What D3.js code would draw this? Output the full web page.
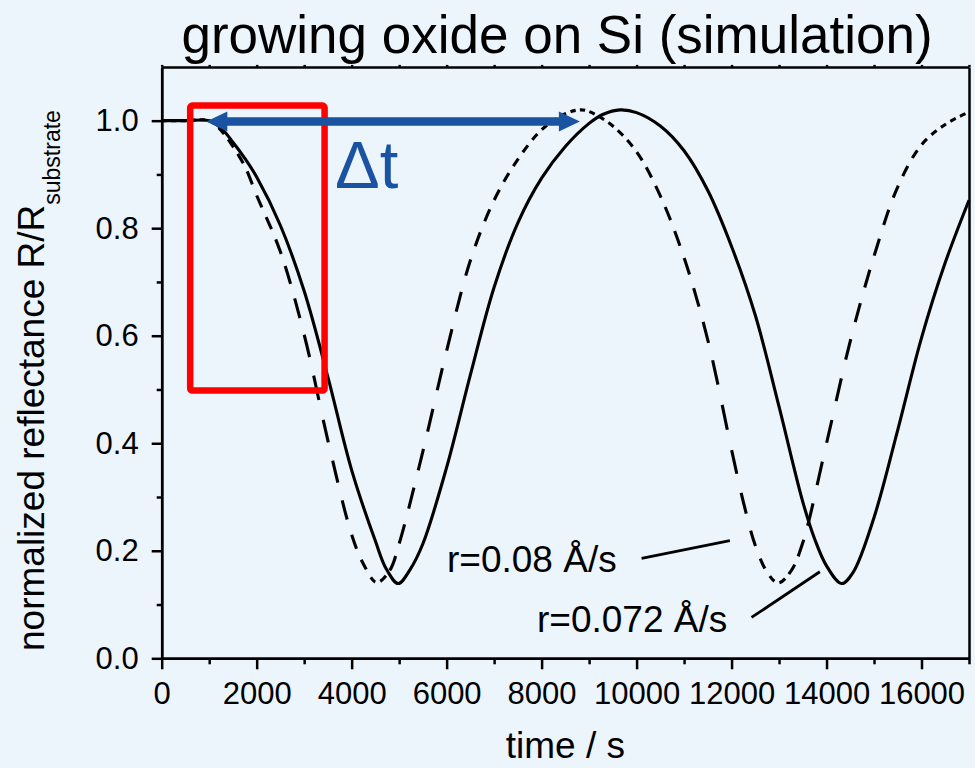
<!DOCTYPE html>
<html>
<head>
<meta charset="utf-8">
<script src="https://cdn.jsdelivr.net/npm/d3@7"></script>
<style>
  html, body { margin: 0; padding: 0; background: #ecf4fc; }
  svg { display: block; font-family: "Liberation Sans", Arial, sans-serif; }
</style>
</head>
<body>
<svg id="chart" width="975" height="768"></svg>
<script>
// ---------- data ----------
const title = "growing oxide on Si (simulation)";
const xTicks = [0, 2000, 4000, 6000, 8000, 10000, 12000, 14000, 16000];
const xMinorTicks = [1000, 3000, 5000, 7000, 9000, 11000, 13000, 15000, 17000];
const yTicks = [0.0, 0.2, 0.4, 0.6, 0.8, 1.0];
const yMinorTicks = [0.1, 0.3, 0.5, 0.7, 0.9];

// r = 0.072 Å/s (solid)
const slowTime = [0, 500, 1000, 1250, 1500, 1750, 2000, 2500, 3000, 3500, 4000, 4500, 4730, 4980, 5230, 5500, 6000, 6500, 7000, 7500, 8000, 8500, 9000, 9300, 9650, 10000, 10500, 11000, 11500, 12000, 12500, 13000, 13500, 13750, 14000, 14316, 14560, 15000, 15500, 16000, 16500, 17000];
const slowR    = [1.000, 1.000, 1.000, 0.986, 0.960, 0.930, 0.895, 0.805, 0.683, 0.523, 0.350, 0.218, 0.166, 0.139, 0.165, 0.213, 0.355, 0.527, 0.690, 0.810, 0.893, 0.952, 0.995, 1.012, 1.020, 1.015, 0.990, 0.944, 0.870, 0.766, 0.638, 0.468, 0.291, 0.222, 0.172, 0.139, 0.160, 0.262, 0.425, 0.596, 0.736, 0.852];

// r = 0.08 Å/s (dashed)
const fastTime = [0, 500, 1000, 1250, 1500, 1750, 2000, 2500, 3000, 3500, 4000, 4250, 4526, 4800, 5000, 5500, 6000, 6500, 7000, 7500, 8000, 8500, 8806, 9000, 9500, 10000, 10500, 11000, 11500, 12000, 12250, 12500, 12750, 12982, 13250, 13500, 14000, 14500, 15000, 15500, 16000, 16500, 17000];
const fastR    = [1.000, 1.000, 1.000, 0.982, 0.952, 0.915, 0.861, 0.756, 0.602, 0.405, 0.230, 0.175, 0.141, 0.163, 0.213, 0.385, 0.572, 0.740, 0.852, 0.928, 0.983, 1.013, 1.020, 1.017, 0.990, 0.942, 0.860, 0.745, 0.592, 0.388, 0.290, 0.210, 0.160, 0.140, 0.162, 0.215, 0.400, 0.590, 0.748, 0.877, 0.955, 0.993, 1.016];

const labelFast = "r=0.08 Å/s";
const labelSlow = "r=0.072 Å/s";

// ---------- layout ----------
const svg = d3.select("#chart");
const W = 975, H = 768;
const x = d3.scaleLinear().domain([0, 17000]).range([161.7, 969]);
const y = d3.scaleLinear().domain([0, 1.1]).range([658.3, 66.9]);
const axisColor = "#000";
const blue = "#1a53a1";

svg.append("rect").attr("width", W).attr("height", H).attr("fill", "#ecf4fc");

// title
svg.append("text").attr("x", 557).attr("y", 53).attr("text-anchor", "middle")
  .attr("font-size", 53).attr("fill", "#000").text(title);

// curves
const line = d3.line().x(d => x(d[0])).y(d => y(d[1])).curve(d3.curveCatmullRom.alpha(0.5));
const fastData = fastTime.map((t, i) => [t, fastR[i]]);
const slowData = slowTime.map((t, i) => [t, slowR[i]]);

const fastPath = svg.append("path").datum(fastData).attr("d", line)
  .attr("fill", "none").attr("stroke", "#000").attr("stroke-width", 3.1)
  .attr("stroke-linecap", "butt");

// dash pattern: one dash per fixed time step (as in the original plot)
(function () {
  const node = fastPath.node();
  const L = node.getTotalLength();
  const xs = d3.range(0, 17000 + 1, 200).map(t => x(t));
  const lens = xs.map(px => {
    let lo = 0, hi = L;
    for (let i = 0; i < 40; i++) {
      const mid = (lo + hi) / 2;
      if (node.getPointAtLength(mid).x < px) lo = mid; else hi = mid;
    }
    return (lo + hi) / 2;
  });
  lens[0] = 0; lens[lens.length - 1] = L;
  const arr = [];
  for (let i = 1; i < lens.length; i++) {
    const seg = lens[i] - lens[i - 1];
    arr.push((seg * 0.55).toFixed(2), (seg * 0.45).toFixed(2));
  }
  fastPath.attr("stroke-dasharray", arr.join(","));
})();

svg.append("path").datum(slowData).attr("d", line)
  .attr("fill", "none").attr("stroke", "#000").attr("stroke-width", 3.1);

// axes
const fontSize = 31;
const xAxis = svg.append("g").attr("transform", `translate(0,${y(0)})`)
  .call(d3.axisBottom(x).tickValues(xTicks).tickSize(11).tickSizeOuter(0).tickPadding(13).tickFormat(d3.format("d")));
const xMinor = svg.append("g").attr("transform", `translate(0,${y(0)})`)
  .call(d3.axisBottom(x).tickValues(xMinorTicks).tickSize(6).tickSizeOuter(0).tickFormat(""));
const yAxis = svg.append("g").attr("transform", `translate(${x(0)},0)`)
  .call(d3.axisLeft(y).tickValues(yTicks).tickSize(10).tickSizeOuter(0).tickPadding(13).tickFormat(d3.format(".1f")));
const yMinor = svg.append("g").attr("transform", `translate(${x(0)},0)`)
  .call(d3.axisLeft(y).tickValues(yMinorTicks).tickSize(5).tickSizeOuter(0).tickFormat(""));
const topAxis = svg.append("g").attr("transform", `translate(0,${y(1.1)})`)
  .call(d3.axisTop(x).tickValues(xTicks.concat(xMinorTicks)).tickSize(2).tickSizeOuter(0).tickFormat(""));
const rightAxis = svg.append("g").attr("transform", `translate(${x(17000)},0)`)
  .call(d3.axisRight(y).tickValues([]).tickSizeOuter(0));

[xAxis, xMinor, yAxis, yMinor, topAxis, rightAxis].forEach(g => {
  g.selectAll("path.domain").attr("stroke", axisColor).attr("stroke-width", 2.5);
  g.selectAll(".tick line").attr("stroke", axisColor).attr("stroke-width", 2.5);
  g.selectAll(".tick text").attr("font-size", fontSize).attr("fill", "#000")
    .attr("font-family", "'Liberation Sans', Arial, sans-serif");
});

// axis titles
svg.append("text").attr("x", x(8500)).attr("y", 758).attr("text-anchor", "middle")
  .attr("font-size", 37).attr("fill", "#000").text("time / s");

const yl = svg.append("text").attr("transform", "translate(44,651) rotate(-90)")
  .attr("text-anchor", "start").attr("font-size", 37).attr("fill", "#000");
yl.append("tspan").text("normalized reflectance R/R");
yl.append("tspan").attr("font-size", 23).attr("dy", 16).text("substrate");

// red box
svg.append("rect")
  .attr("x", x(600)).attr("y", y(1.028))
  .attr("width", x(3430) - x(600)).attr("height", y(0.498) - y(1.028))
  .attr("fill", "none").attr("stroke", "#ff0000").attr("stroke-width", 6.5).attr("rx", 2);

// blue double arrow (Δt)
const ax1 = x(940), ax2 = x(8806), ay = y(1.0) + 0.8;
const hl = 21, hh = 10, sh = 4.3;
svg.append("path")
  .attr("d", `M${ax1},${ay} L${ax1 + hl},${ay - hh} L${ax1 + hl},${ay - sh} L${ax2 - hl},${ay - sh} L${ax2 - hl},${ay - hh} L${ax2},${ay} L${ax2 - hl},${ay + hh} L${ax2 - hl},${ay + sh} L${ax1 + hl},${ay + sh} L${ax1 + hl},${ay + hh} Z`)
  .attr("fill", blue);
svg.append("text").attr("x", 335).attr("y", 188).attr("font-size", 67).attr("fill", blue).text("Δt");

// curve labels with leader lines
svg.append("text").attr("x", 447).attr("y", 572).attr("font-size", 37).attr("fill", "#000").text(labelFast);
svg.append("line").attr("x1", x(10105)).attr("y1", y(0.186)).attr("x2", x(11964)).attr("y2", y(0.219))
  .attr("stroke", "#000").attr("stroke-width", 2.8);
svg.append("text").attr("x", 537).attr("y", 632).attr("font-size", 37).attr("fill", "#000").text(labelSlow);
svg.append("line").attr("x1", x(12421)).attr("y1", y(0.076)).attr("x2", x(13859)).attr("y2", y(0.161))
  .attr("stroke", "#000").attr("stroke-width", 2.8);
</script>
</body>
</html>
